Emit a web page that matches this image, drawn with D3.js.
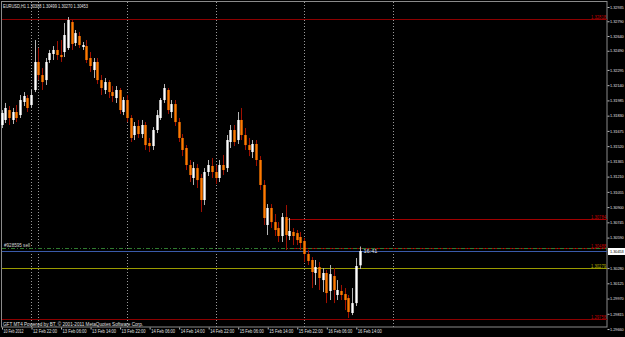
<!DOCTYPE html>
<html>
<head>
<meta charset="utf-8">
<script src="https://cdn.jsdelivr.net/npm/d3@7"></script>
<style>
  html, body { margin: 0; padding: 0; background: #000; }
  svg { display: block; font-family: 'Liberation Sans', Arial, sans-serif; }
</style>
</head>
<body>
<div id="chart"></div>
<script>
// EURUSD H1 bars, 10 Feb 2012 14:00 -> 16 Feb 2012 15:00 (weekend gap skipped)
const sessions = [
  ['10 Feb', 14, 21],
  ['12 Feb', 22, 23],
  ['13 Feb', 0, 23],
  ['14 Feb', 0, 23],
  ['15 Feb', 0, 23],
  ['16 Feb', 0, 15]
];
const times = [];
sessions.forEach(([day, from, to]) => {
  for (let h = from; h <= to; h++) times.push(`${day} ${String(h).padStart(2, '0')}:00`);
});

const open = [
  1.31735, 1.31786, 1.31887, 1.31786, 1.31867, 1.31836, 1.31969, 1.32009, 1.31938, 1.32091,
  1.32376, 1.32243, 1.32192, 1.32396, 1.32457, 1.32498, 1.32447, 1.32477, 1.32518, 1.32782,
  1.32569, 1.32640, 1.32528, 1.32538, 1.32416, 1.32294, 1.32376, 1.32192, 1.32091, 1.32172,
  1.32070, 1.32009, 1.32091, 1.31867, 1.31989, 1.31806, 1.31633, 1.31725, 1.31643, 1.31735,
  1.31552, 1.31521, 1.31684, 1.31806, 1.31989, 1.32091, 1.31867, 1.31948, 1.31765, 1.31603,
  1.31501, 1.31328, 1.31196, 1.31297, 1.31196, 1.30972, 1.31257, 1.31318, 1.31257, 1.31196,
  1.31328, 1.31297, 1.31562, 1.31684, 1.31582, 1.31786, 1.31633, 1.31531, 1.31460, 1.31542,
  1.31379, 1.31125, 1.30718, 1.30891, 1.30748, 1.30687, 1.30606, 1.30799, 1.30606, 1.30647,
  1.30636, 1.30596, 1.30555, 1.30423, 1.30362, 1.30230, 1.30291, 1.30158, 1.30230, 1.30047,
  1.30199, 1.30006, 1.30047, 1.30016, 1.29975, 1.29823, 1.29924, 1.30308
];
const high = [
  1.31887, 1.31959, 1.31928, 1.31908, 1.31938, 1.32040, 1.32070, 1.32040, 1.32091, 1.32599,
  1.32518, 1.32314, 1.32416, 1.32498, 1.32538, 1.32589, 1.32599, 1.32772, 1.32833, 1.32803,
  1.32701, 1.32681, 1.32579, 1.32599, 1.32477, 1.32416, 1.32416, 1.32243, 1.32213, 1.32192,
  1.32131, 1.32131, 1.32111, 1.32020, 1.32040, 1.31836, 1.31765, 1.31786, 1.31786, 1.31765,
  1.31603, 1.31714, 1.31887, 1.32009, 1.32152, 1.32111, 1.31989, 1.31989, 1.31806, 1.31643,
  1.31531, 1.31379, 1.31359, 1.31338, 1.31236, 1.31297, 1.31379, 1.31399, 1.31328, 1.31379,
  1.31430, 1.31633, 1.31735, 1.31735, 1.31867, 1.31908, 1.31704, 1.31603, 1.31582, 1.31582,
  1.31419, 1.31175, 1.30931, 1.30931, 1.30830, 1.30748, 1.30840, 1.30921, 1.30789, 1.30687,
  1.30667, 1.30647, 1.30585, 1.30464, 1.30392, 1.30362, 1.30341, 1.30280, 1.30260, 1.30311,
  1.30280, 1.30158, 1.30108, 1.30077, 1.30006, 1.30077, 1.30382, 1.30499
];
const low = [
  1.31704, 1.31755, 1.31735, 1.31745, 1.31765, 1.31806, 1.31928, 1.31867, 1.31908, 1.32070,
  1.32192, 1.32091, 1.32142, 1.32365, 1.32396, 1.32396, 1.32376, 1.32426, 1.32498, 1.32498,
  1.32538, 1.32518, 1.32498, 1.32365, 1.32274, 1.32213, 1.32152, 1.32040, 1.32050, 1.32009,
  1.31969, 1.31959, 1.31847, 1.31836, 1.31765, 1.31562, 1.31582, 1.31603, 1.31603, 1.31481,
  1.31460, 1.31481, 1.31653, 1.31786, 1.31959, 1.31847, 1.31806, 1.31725, 1.31562, 1.31419,
  1.31277, 1.31155, 1.31125, 1.31094, 1.30850, 1.30921, 1.31216, 1.31196, 1.31135, 1.31155,
  1.31226, 1.31257, 1.31501, 1.31521, 1.31542, 1.31582, 1.31481, 1.31419, 1.31399, 1.31318,
  1.31074, 1.30718, 1.30616, 1.30687, 1.30606, 1.30545, 1.30545, 1.30464, 1.30565, 1.30514,
  1.30514, 1.30464, 1.30341, 1.30311, 1.30077, 1.30108, 1.30057, 1.30036, 1.29924, 1.29955,
  1.29924, 1.29955, 1.29955, 1.29853, 1.29772, 1.29802, 1.29894, 1.30270
];
const close = [
  1.31857, 1.31908, 1.31806, 1.31867, 1.31806, 1.31989, 1.32030, 1.31908, 1.32040, 1.32376,
  1.32243, 1.32172, 1.32376, 1.32467, 1.32498, 1.32447, 1.32426, 1.32650, 1.32803, 1.32559,
  1.32670, 1.32548, 1.32548, 1.32396, 1.32335, 1.32376, 1.32192, 1.32111, 1.32172, 1.32070,
  1.32030, 1.32091, 1.31887, 1.31989, 1.31806, 1.31603, 1.31725, 1.31643, 1.31735, 1.31531,
  1.31521, 1.31684, 1.31836, 1.31989, 1.32111, 1.31887, 1.31948, 1.31765, 1.31603, 1.31481,
  1.31328, 1.31226, 1.31297, 1.31175, 1.30972, 1.31257, 1.31328, 1.31257, 1.31196, 1.31328,
  1.31277, 1.31582, 1.31684, 1.31562, 1.31786, 1.31633, 1.31531, 1.31481, 1.31542, 1.31379,
  1.31125, 1.30789, 1.30891, 1.30748, 1.30667, 1.30606, 1.30799, 1.30616, 1.30657, 1.30606,
  1.30565, 1.30535, 1.30423, 1.30352, 1.30240, 1.30291, 1.30179, 1.30230, 1.30026, 1.30219,
  1.30057, 1.30057, 1.30006, 1.29955, 1.29833, 1.29924, 1.30301, 1.30453
];

// price scale labels as printed by the terminal (1.30435 sits under the bid box)
const priceTicks = [
  1.32935, 1.32790, 1.32640, 1.32490, 1.32295, 1.32140, 1.31985, 1.31830, 1.31675, 1.31520,
  1.31365, 1.31210, 1.31055, 1.30900, 1.30745, 1.30590, 1.30280, 1.30125, 1.29970, 1.29815,
  1.29660
];
const timeTickBars = ['10 Feb 14:00', '12 Feb 22:00', '13 Feb 06:00', '13 Feb 14:00', '13 Feb 22:00',
  '14 Feb 06:00', '14 Feb 14:00', '14 Feb 22:00', '15 Feb 06:00', '15 Feb 14:00', '15 Feb 22:00',
  '16 Feb 06:00', '16 Feb 14:00'];
const timeTickLabels = ['10 Feb 2012', '12 Feb 22:00', '13 Feb 06:00', '13 Feb 14:00', '13 Feb 22:00',
  '14 Feb 06:00', '14 Feb 14:00', '14 Feb 22:00', '15 Feb 06:00', '15 Feb 14:00', '15 Feb 22:00',
  '16 Feb 06:00', '16 Feb 14:00'];
// day separators; the last one lies in the empty shifted area (24 bars after 16 Feb 00:00)
const separatorBars = ['12 Feb 22:00', '13 Feb 00:00', '14 Feb 00:00', '15 Feb 00:00', '16 Feb 00:00'];
const futureSeparatorOffset = 24;

// horizontal levels drawn on the chart
const levelPrices = [1.32818, 1.30784, 1.30488, 1.30279, 1.29758];
const levelColors = ['#8c0000', '#a00000', '#a00000', '#9a9a00', '#8c0000'];
const levelStart = ['10 Feb 14:00', '15 Feb 19:00', '15 Feb 20:00', '10 Feb 14:00', '10 Feb 14:00'];
const orderPrice = 1.30484;
const orderLabel = '#928595 sell';
const bidPrice = 1.30453;
const header = 'EURUSD,H1  1.30308 1.30499 1.30270 1.30453';
const countdown = '16:41';
const copyright = 'GFT MT4 Powered by BT, \u00a9 2001-2011 MetaQuotes Software Corp.';

const W = 625, H = 337;
const plotRight = 607, plotBottom = 327;

const svg = d3.select('#chart').append('svg')
  .attr('width', W).attr('height', H)
  .style('background', '#000');

const x = d3.scaleLinear().domain([0, times.length - 1]).range([1.5, 359.5]);
const y = d3.scaleLinear().domain([1.29758, 1.32818]).range([319.4, 18.5]);
const idx = (t) => times.indexOf(t);

// frame
svg.append('rect')
  .attr('x', 1.5).attr('y', 1.5)
  .attr('width', plotRight - 1.5).attr('height', plotBottom - 1.5)
  .attr('fill', 'none').attr('stroke', '#8a8a8a').attr('stroke-width', 1);

// period separators
const sepIdx = separatorBars.map(idx);
sepIdx.push(idx('16 Feb 00:00') + futureSeparatorOffset);
svg.append('g').selectAll('line').data(sepIdx).join('line')
  .attr('x1', (d) => Math.round(x(d)) + 0.5).attr('x2', (d) => Math.round(x(d)) + 0.5)
  .attr('y1', 2).attr('y2', plotBottom)
  .attr('stroke', '#9a9a9a').attr('stroke-dasharray', '1,2');

// levels
const levels = levelPrices.map((p, i) => ({ p, c: levelColors[i], s: idx(levelStart[i]) }));
const lv = svg.append('g');
lv.selectAll('line').data(levels).join('line')
  .attr('x1', (d) => (d.s === 0 ? 2 : x(d.s)))
  .attr('x2', plotRight)
  .attr('y1', (d) => Math.round(y(d.p)) + 0.5).attr('y2', (d) => Math.round(y(d.p)) + 0.5)
  .attr('stroke', (d) => d.c);
lv.selectAll('text').data(levels).join('text')
  .attr('x', plotRight - 1)
  .attr('y', (d) => Math.round(y(d.p)) - 0.5)
  .attr('text-anchor', 'end')
  .attr('font-size', 5.5)
  .attr('textLength', 15).attr('lengthAdjust', 'spacingAndGlyphs')
  .attr('fill', (d) => (d.c === '#9a9a00' ? '#b0b000' : '#c00000'))
  .text((d) => d.p.toFixed(5));

// order line and bid line
svg.append('line')
  .attr('x1', 2).attr('x2', plotRight)
  .attr('y1', Math.round(y(orderPrice)) + 0.5).attr('y2', Math.round(y(orderPrice)) + 0.5)
  .attr('stroke', '#2f7a2f').attr('stroke-dasharray', '4,2,1,2');
svg.append('text')
  .attr('x', 4).attr('y', Math.round(y(orderPrice)) - 1.5)
  .attr('font-size', 5).attr('fill', '#d8d8d8')
  .attr('textLength', 26).attr('lengthAdjust', 'spacingAndGlyphs')
  .text(orderLabel);
svg.append('line')
  .attr('x1', 2).attr('x2', plotRight)
  .attr('y1', Math.round(y(bidPrice)) + 0.5).attr('y2', Math.round(y(bidPrice)) + 0.5)
  .attr('stroke', '#3a5aa8');

// candles
const bars = times.map((t, i) => ({ i, o: open[i], h: high[i], l: low[i], c: close[i] }));
const cg = svg.append('g');
cg.selectAll('line').data(bars).join('line')
  .attr('x1', (d) => Math.round(x(d.i)) + 0.5).attr('x2', (d) => Math.round(x(d.i)) + 0.5)
  .attr('y1', (d) => y(d.h)).attr('y2', (d) => y(d.l))
  .attr('stroke', (d) => (d.c >= d.o ? '#b4b4b4' : '#a01000'));
cg.selectAll('rect').data(bars).join('rect')
  .attr('x', (d) => Math.round(x(d.i)) - 0.7)
  .attr('width', 2.4)
  .attr('y', (d) => y(Math.max(d.o, d.c)))
  .attr('height', (d) => Math.max(1, Math.abs(y(d.o) - y(d.c))))
  .attr('fill', (d) => (d.c >= d.o ? '#ffffff' : '#ff7a00'));

// countdown next to the last bar
svg.append('text')
  .attr('x', x(times.length - 1) + 4).attr('y', y(bidPrice) + 2)
  .attr('font-size', 5.5).attr('fill', '#e0e0e0')
  .text(countdown);

// header and copyright
svg.append('text').attr('x', 3).attr('y', 8).attr('font-size', 5.5).attr('fill', '#e0e0e0')
  .attr('textLength', 85).attr('lengthAdjust', 'spacingAndGlyphs').text(header);
svg.append('text').attr('x', 3).attr('y', 326).attr('font-size', 5).attr('fill', '#e0e0e0')
  .attr('textLength', 140).attr('lengthAdjust', 'spacingAndGlyphs').text(copyright);

// price axis
const yAxis = svg.append('g')
  .attr('transform', `translate(${plotRight + 0.5},0)`)
  .call(d3.axisRight(y).tickValues(priceTicks).tickSize(2).tickPadding(0.5).tickFormat(d3.format('.5f')));
yAxis.select('.domain').remove();
yAxis.selectAll('line').attr('stroke', '#bbbbbb');
yAxis.selectAll('text').attr('fill', '#e0e0e0').attr('font-size', 3.8)
  .attr('font-family', 'Liberation Sans, Arial, sans-serif');

// bid box
svg.append('rect').attr('x', plotRight + 1).attr('y', Math.round(y(bidPrice)) - 3)
  .attr('width', 18).attr('height', 7).attr('fill', '#ffffff');
svg.append('text').attr('x', plotRight + 3).attr('y', Math.round(y(bidPrice)) + 2)
  .attr('font-size', 3.8).attr('fill', '#000')
  .text(bidPrice.toFixed(5));

// time axis
const tickIdx = timeTickBars.map(idx);
const xAxis = svg.append('g')
  .attr('transform', `translate(0.5,${plotBottom + 0.5})`)
  .call(d3.axisBottom(x)
    .tickValues(tickIdx)
    .tickSize(2)
    .tickFormat((d) => timeTickLabels[tickIdx.indexOf(d)]));
xAxis.select('.domain').remove();
xAxis.selectAll('line').attr('stroke', '#bbbbbb');
xAxis.selectAll('text')
  .attr('text-anchor', 'start').attr('dx', 1).attr('dy', '0.35em')
  .attr('y', 3.5)
  .attr('fill', '#e0e0e0').attr('font-size', 5).attr('font-family', 'Liberation Sans, Arial, sans-serif')
  .attr('textLength', (d, i) => (i === 0 ? 20 : 24)).attr('lengthAdjust', 'spacingAndGlyphs');
</script>
</body>
</html>
